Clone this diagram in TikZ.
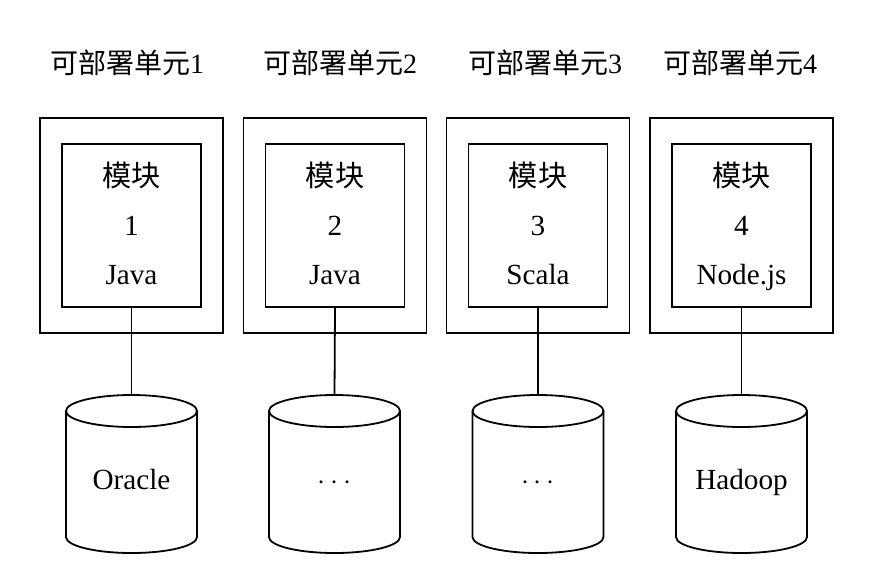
\documentclass[tikz,border=0pt]{standalone}
\usepackage{fontspec}
\setmainfont{Liberation Serif}
\newfontfamily\cjk{Noto Sans CJK SC}
\begin{document}
\begin{tikzpicture}[x=0.5pt,y=-0.5pt,
  line width=0.9pt,
  txt/.style={font=\fontsize{14}{24.5}\selectfont, inner sep=0pt},
  dbtxt/.style={font=\fontsize{14.6}{24.5}\selectfont, inner sep=0pt, text height=10pt, text depth=3pt},
  outerbox/.style={draw, minimum width=91.5pt, minimum height=107.5pt, inner sep=0pt},
  innerbox/.style={draw, minimum width=69.5pt, minimum height=81.5pt, inner sep=0pt, align=center, font=\fontsize{14.6}{24.5}\selectfont},
  conn/.style={draw}]
\useasboundingbox (0,0) rectangle (870,578);
% titles
\node[txt] (t1) at (127,63) {{\cjk 可部署单元}1};
\node[txt] (t2) at (340,63) {{\cjk 可部署单元}2};
\node[txt] (t3) at (545,63) {{\cjk 可部署单元}3};
\node[txt] (t4) at (740,63) {{\cjk 可部署单元}4};
% outer boxes
\node[outerbox] (u1) at (131.5,225.5) {};
\node[outerbox] (u2) at (335,225.5) {};
\node[outerbox] (u3) at (538,225.5) {};
\node[outerbox] (u4) at (741.5,225.5) {};
% inner boxes
\node[innerbox] (m1) at (131.5,225.5) {{\cjk 模块}\strut\\1\strut\\Java\strut};
\node[innerbox] (m2) at (335,225.5) {{\cjk 模块}\strut\\2\strut\\Java\strut};
\node[innerbox] (m3) at (538,225.5) {{\cjk 模块}\strut\\3\strut\\Scala\strut};
\node[innerbox] (m4) at (741.5,225.5) {{\cjk 模块}\strut\\4\strut\\Node.js\strut};
% cylinders
\foreach \cx/\i in {131.5/1,334.5/2,538/3,741.5/4}{
  \draw (\cx-65.5,411) -- (\cx-65.5,537) arc[start angle=180,end angle=0,x radius=65.5,y radius=16] -- (\cx+65.5,411);
  \draw (\cx,411) ellipse[x radius=65.5,y radius=16];
  \coordinate (d\i top) at (\cx,395);
}
\node[dbtxt] (d1) at (131.5,482) {Oracle};
\node[dbtxt] (d2) at (334.5,482) {$\cdots$};
\node[dbtxt] (d3) at (538,482) {$\cdots$};
\node[dbtxt] (d4) at (741.5,482) {Hadoop};
% connectors
\draw[conn] (m1.south) -- (d1top);
\draw[conn] (m2.south) -- (d2top);
\draw[conn] (m3.south) -- (d3top);
\draw[conn] (m4.south) -- (d4top);
\end{tikzpicture}
\end{document}
